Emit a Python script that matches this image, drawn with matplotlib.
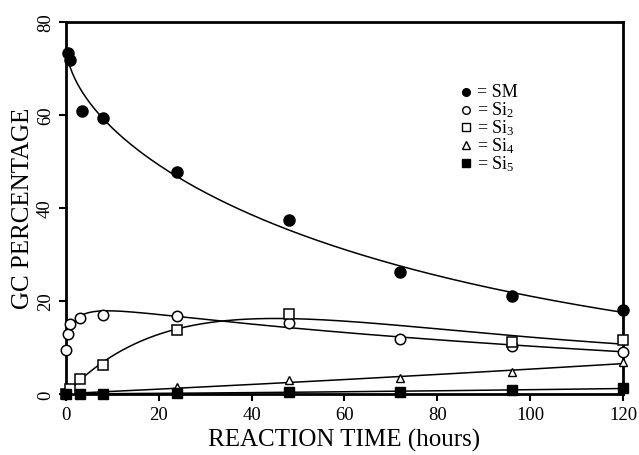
import numpy as np
import matplotlib
matplotlib.use("Agg")
import matplotlib.pyplot as plt

plt.rcParams["font.family"] = ["Liberation Serif", "DejaVu Serif"]
plt.rcParams["mathtext.fontset"] = "custom"
plt.rcParams["mathtext.rm"] = "Liberation Serif"
plt.rcParams["mathtext.it"] = "Liberation Serif:italic"

# Data (reaction time in hours, GC %)
t_sm = [0.4, 1, 3.4, 8, 24, 48, 72, 96, 120]
sm = [73.3, 71.8, 60.8, 59.4, 47.7, 37.3, 26.1, 21.1, 18.1]

t_si2 = [0, 0.5, 1, 3, 8, 24, 48, 72, 96, 120]
si2 = [9.5, 12.9, 15.0, 16.4, 17.0, 16.8, 15.2, 11.8, 10.3, 9.1]

t_si3 = [0, 1, 3, 8, 24, 48, 96, 120]
si3 = [0, 1.0, 3.1, 6.2, 13.8, 17.1, 11.1, 11.6]

t_si4 = [0, 3, 8, 24, 48, 72, 96, 120]
si4 = [0, 0.1, 0.3, 1.5, 2.9, 3.4, 4.7, 6.8]

t_si5 = [0, 3, 8, 24, 48, 72, 96, 120]
si5 = [0, 0, 0, 0.1, 0.5, 0.5, 0.8, 1.2]

xticks = [0, 20, 40, 60, 80, 100, 120]
yticks = [0, 20, 40, 60, 80]


def bateman_fit(t, y, tf):
    # y = A*(exp(-k1 t) - exp(-k2 t)) + B*(1 - exp(-k2 t))
    # grid search on the rates, least squares on A and B
    t = np.asarray(t, float)
    y = np.asarray(y, float)
    best = None
    for k1 in np.linspace(0.002, 0.06, 60):
        for k2 in np.linspace(0.02, 0.5, 100):
            if k2 <= k1:
                continue
            M = np.column_stack([np.exp(-k1 * t) - np.exp(-k2 * t),
                                 1 - np.exp(-k2 * t)])
            coef, *_ = np.linalg.lstsq(M, y, rcond=None)
            if coef[1] < 0:
                continue
            err = np.sum((M @ coef - y) ** 2)
            if best is None or err < best[0]:
                best = (err, coef, k1, k2)
    _, (A, B), k1, k2 = best
    return A * (np.exp(-k1 * tf) - np.exp(-k2 * tf)) + B * (1 - np.exp(-k2 * tf))


fig = plt.figure(figsize=(6.39, 4.56), dpi=100)
ax = fig.add_axes([0.103, 0.134, 0.872, 0.816])

tf = np.linspace(0, 120, 500)
lk = dict(color="black", lw=1.1, zorder=2)

# smooth fitted curves
c = np.polyfit(np.sqrt(t_sm), np.log(sm), 2)
ax.plot(tf, np.exp(np.polyval(c, np.sqrt(tf))), **lk)
c = np.polyfit(np.log1p(t_si2), si2, 3)
ax.plot(tf, np.polyval(c, np.log1p(tf)), **lk)
ax.plot(tf, bateman_fit(t_si3, si3, tf), **lk)
c = np.polyfit(t_si4, si4, 2)
ax.plot(tf, np.polyval(c, tf), **lk)
c = np.polyfit(t_si5, si5, 2)
ax.plot(tf, np.polyval(c, tf), **lk)

kw = dict(ls="none", color="black", mec="black", clip_on=False, zorder=3)
ax.plot(t_sm, sm, marker="o", ms=8, mfc="black", **kw)
ax.plot(t_si2, si2, marker="o", ms=7.5, mfc="white", mew=1.1, **kw)
ax.plot(t_si3, si3, marker="s", ms=6.5, mfc="white", mew=1.1, **kw)
ax.plot(t_si4, si4, marker="^", ms=6, mfc="white", mew=1.0, **kw)
ax.plot(t_si5, si5, marker="s", ms=6.5, mfc="black", **kw)

# legend drawn as text rows
leg = [("o", "black", "SM"), ("o", "white", "Si$_2$"), ("s", "white", "Si$_3$"),
       ("^", "white", "Si$_4$"), ("s", "black", "Si$_5$")]
for i, (m, fc, name) in enumerate(leg):
    y = 0.812 - i * 0.048
    ax.plot([0.718], [y], marker=m, ms=5.5, mfc=fc, mec="black", mew=1.0,
            transform=ax.transAxes, ls="none")
    ax.text(0.738, y, "= " + name, transform=ax.transAxes, fontsize=13,
            va="center", ha="left")

ax.set_xlim(0, 120)
ax.set_ylim(0, 80)
ax.set_xticks(xticks)
ax.set_yticks(yticks)
ax.tick_params(direction="out", length=5, width=1.5, labelsize=13.5)
for lab in ax.get_yticklabels():
    lab.set_rotation(90)
    lab.set_va("center")
for s in ax.spines.values():
    s.set_linewidth(2)

ax.set_xlabel("REACTION TIME (hours)", fontsize=18, labelpad=4)
ax.set_ylabel("GC PERCENTAGE", fontsize=18, labelpad=2)

fig.savefig("out.png", dpi=100)
